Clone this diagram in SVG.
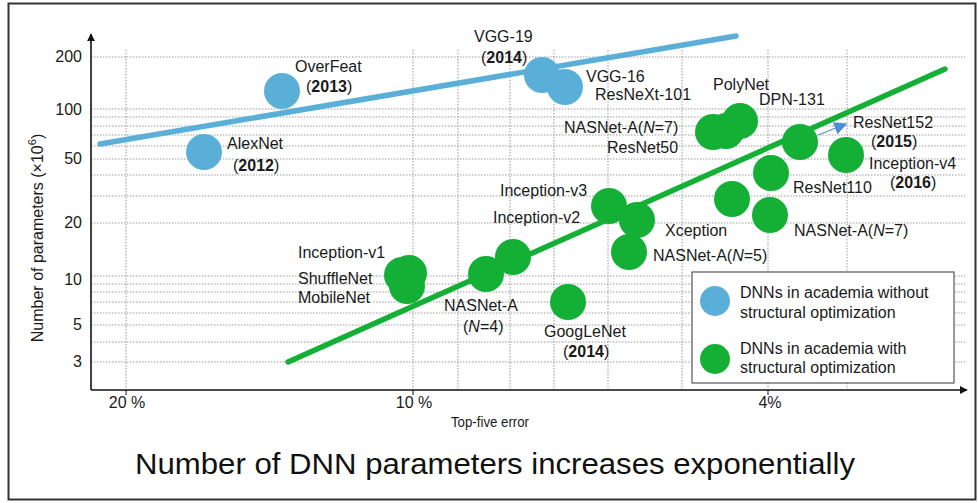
<svg xmlns="http://www.w3.org/2000/svg" width="978" height="503" viewBox="0 0 978 503">
<defs>
<style>
text{font-family:"Liberation Sans",Arial,sans-serif;fill:#1a1a1a;font-size:16px}
.b{font-weight:bold}
.i{font-style:italic}
.grid{stroke:#9a9a9a;stroke-width:1;stroke-dasharray:1.5 1.5;fill:none}
.blue{fill:#5aafd9}
.green{fill:#14b035}
.tick{text-anchor:end}
.xt{text-anchor:middle}
.sup{font-size:11px}
.xlab{font-size:14px}
.title{font-size:30px;fill:#111}
</style>
<marker id="ah" viewBox="0 0 10 10" refX="9" refY="5" markerWidth="8" markerHeight="8" orient="auto" markerUnits="userSpaceOnUse">
<path d="M0,0 L10,5 L0,10 z" fill="#111"/>
</marker>
<marker id="ahb" viewBox="0 0 10 10" refX="9" refY="5" markerWidth="13" markerHeight="13" orient="auto" markerUnits="userSpaceOnUse">
<path d="M0,0 L10,5 L0,10 z" fill="#4a8fd6"/>
</marker>
</defs>
<rect x="0" y="0" width="978" height="503" fill="#fff"/>
<rect x="8.5" y="3.5" width="967" height="496" fill="none" stroke="#333" stroke-width="2"/>

<g id="grid">
<path class="grid" d="M91,57H965 M91,109H965 M91,117H965 M91,126H965 M91,135H965 M91,146H965 M91,159H965 M91,175H965 M91,196H965 M91,223H965 M91,276H965 M91,284H965 M91,292H965 M91,302H965 M91,313H965 M91,325H965 M91,342H965 M91,362H965"/>
<path class="grid" d="M126,50V390 M413,50V390 M458,50V390 M510,50V390 M554,50V390 M608,50V390 M682,50V390 M768,50V390 M847,50V390"/>
</g>

<g id="axes" stroke="#111" stroke-width="1.6" fill="none">
<line x1="91" y1="390" x2="91" y2="34" marker-end="url(#ah)"/>
<line x1="91" y1="390" x2="967" y2="390" marker-end="url(#ah)"/>
<path d="M126,390v5 M413,390v5 M768,390v5" stroke-width="1"/>
</g>

<g id="axis-labels">
<text class="tick" x="82" y="62">200</text>
<text class="tick" x="82" y="115">100</text>
<text class="tick" x="82" y="164">50</text>
<text class="tick" x="82" y="228">20</text>
<text class="tick" x="82" y="285">10</text>
<text class="tick" x="82" y="330">5</text>
<text class="tick" x="82" y="367">3</text>
<text class="xt" x="127" y="408">20 %</text>
<text class="xt" x="414" y="408">10 %</text>
<text class="xt" x="770" y="408">4%</text>
<text class="xlab" x="490" y="427" text-anchor="middle" textLength="78" lengthAdjust="spacingAndGlyphs">Top-five error</text>
<text transform="translate(43,238) rotate(-90)" text-anchor="middle">Number of parameters (×10<tspan class="sup" dy="-7">6</tspan><tspan dy="7">)</tspan></text>
</g>

<g id="connectors">
<line x1="100" y1="144" x2="736" y2="36" stroke="#5aafd9" stroke-width="5.5" stroke-linecap="round"/>
<line x1="288" y1="362" x2="945" y2="69" stroke="#14b035" stroke-width="5.5" stroke-linecap="round"/>
<line x1="818" y1="135" x2="846" y2="124" stroke="#4a8fd6" stroke-width="1.3" marker-end="url(#ahb)"/>
</g>

<g id="alexnet"><circle class="blue" cx="204" cy="152" r="18"/><text x="227" y="149">AlexNet</text><text x="233" y="171">(<tspan class="b">2012</tspan>)</text></g>
<g id="overfeat"><circle class="blue" cx="282" cy="91" r="18"/><text x="295" y="72">OverFeat</text><text x="306" y="92">(<tspan class="b">2013</tspan>)</text></g>
<g id="vgg19"><circle class="blue" cx="542" cy="75" r="18"/><text x="474" y="42">VGG-19</text><text x="481" y="63">(<tspan class="b">2014</tspan>)</text></g>
<g id="vgg16"><circle class="blue" cx="565" cy="87" r="18"/><text x="586" y="82">VGG-16</text><text x="595" y="100">ResNeXt-101</text></g>

<g id="inception-v1"><circle class="green" cx="402" cy="275" r="18"/><circle class="green" cx="409" cy="273" r="18"/><circle class="green" cx="407" cy="286" r="18"/><text x="298" y="258">Inception-v1</text><text x="298" y="284">ShuffleNet</text><text x="298" y="303">MobileNet</text></g>
<g id="nasnet-a-4"><circle class="green" cx="486" cy="274" r="18"/><text x="444" y="311">NASNet-A</text><text x="463" y="332">(<tspan class="i">N</tspan>=4)</text></g>
<g id="inception-v2"><circle class="green" cx="513" cy="257" r="18"/><text x="493" y="223">Inception-v2</text></g>
<g id="googlenet"><circle class="green" cx="568" cy="302" r="18"/><text x="544" y="337">GoogLeNet</text><text x="563" y="357">(<tspan class="b">2014</tspan>)</text></g>
<g id="inception-v3"><circle class="green" cx="609" cy="206" r="18"/><text x="500" y="196">Inception-v3</text></g>
<g id="xception"><circle class="green" cx="637" cy="220" r="18"/><text x="665" y="236">Xception</text></g>
<g id="nasnet-a-5"><circle class="green" cx="629" cy="252" r="18"/><text x="653" y="261">NASNet-A(<tspan class="i">N</tspan>=5)</text></g>
<g id="nasnet-a-7-top"><circle class="green" cx="713" cy="132" r="18"/><circle class="green" cx="726" cy="131" r="18"/><circle class="green" cx="740" cy="121" r="18"/><text x="564" y="133">NASNet-A(<tspan class="i">N</tspan>=7)</text><text x="607" y="153">ResNet50</text><text x="713" y="90">PolyNet</text></g>
<g id="dpn-131"><circle class="green" cx="800" cy="142" r="18"/><text x="759" y="105">DPN-131</text></g>
<g id="resnet152"><text x="853" y="128">ResNet152</text><text x="871" y="147">(<tspan class="b">2015</tspan>)</text></g>
<g id="inception-v4"><circle class="green" cx="846" cy="155" r="18"/><text x="869" y="169">Inception-v4</text><text x="890" y="188">(<tspan class="b">2016</tspan>)</text></g>
<g id="resnet110"><circle class="green" cx="771" cy="173" r="18"/><text x="793" y="193">ResNet110</text></g>
<g id="resnet-extra"><circle class="green" cx="732" cy="199" r="18"/></g>
<g id="nasnet-a-7"><circle class="green" cx="770" cy="215" r="18"/><text x="794" y="236">NASNet-A(<tspan class="i">N</tspan>=7)</text></g>

<g id="legend">
<rect x="692" y="272" width="262" height="111" fill="#fff" stroke="#555" stroke-width="1.2"/>
<circle class="blue" cx="715" cy="301" r="15"/>
<text x="740" y="298">DNNs in academia without</text>
<text x="740" y="318">structural optimization</text>
<circle class="green" cx="715" cy="359" r="15"/>
<text x="740" y="354">DNNs in academia with</text>
<text x="740" y="373">structural optimization</text>
</g>

<g id="title"><text class="title" x="495" y="474" text-anchor="middle" textLength="720" lengthAdjust="spacingAndGlyphs">Number of DNN parameters increases exponentially</text></g>
</svg>
